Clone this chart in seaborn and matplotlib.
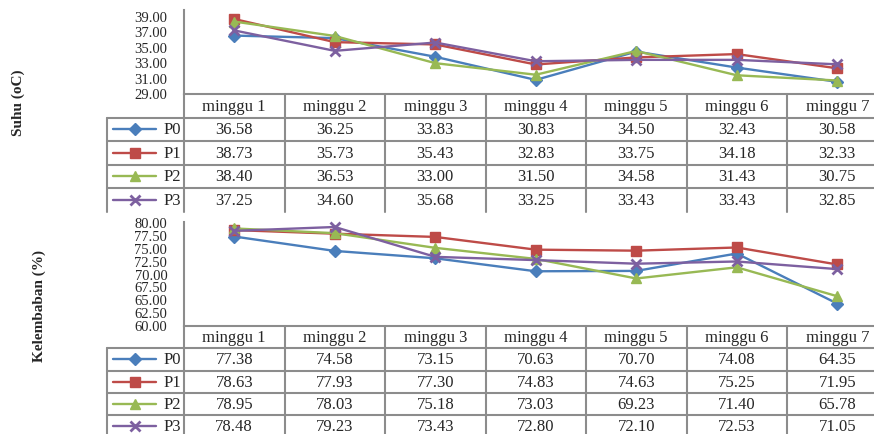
import numpy as np
import pandas as pd
import matplotlib
matplotlib.use("Agg")
import matplotlib.pyplot as plt
import seaborn as sns

weeks = ["minggu 1", "minggu 2", "minggu 3", "minggu 4", "minggu 5", "minggu 6", "minggu 7"]
series = ["P0", "P1", "P2", "P3"]

suhu_p0 = [36.58, 36.25, 33.83, 30.83, 34.50, 32.43, 30.58]
suhu_p1 = [38.73, 35.73, 35.43, 32.83, 33.75, 34.18, 32.33]
suhu_p2 = [38.40, 36.53, 33.00, 31.50, 34.58, 31.43, 30.75]
suhu_p3 = [37.25, 34.60, 35.68, 33.25, 33.43, 33.43, 32.85]

lembab_p0 = [77.38, 74.58, 73.15, 70.63, 70.70, 74.08, 64.35]
lembab_p1 = [78.63, 77.93, 77.30, 74.83, 74.63, 75.25, 71.95]
lembab_p2 = [78.95, 78.03, 75.18, 73.03, 69.23, 71.40, 65.78]
lembab_p3 = [78.48, 79.23, 73.43, 72.80, 72.10, 72.53, 71.05]

suhu_ticks = [29, 31, 33, 35, 37, 39]
lembab_ticks = [60, 62.5, 65, 67.5, 70, 72.5, 75, 77.5, 80]

colors = {"P0": "#4A7EBB", "P1": "#BE4B48", "P2": "#98B954", "P3": "#7D60A0"}
markers = {"P0": "D", "P1": "s", "P2": "^", "P3": "x"}
msize = {"P0": 6.5, "P1": 7.5, "P2": 7.5, "P3": 7.5}


def long_frame(vals):
    rows = []
    for s, v in zip(series, vals):
        for i, w in enumerate(weeks):
            rows.append({"pos": i, "minggu": w, "seri": s, "nilai": v[i]})
    return pd.DataFrame(rows)


df_suhu = long_frame([suhu_p0, suhu_p1, suhu_p2, suhu_p3])
df_lembab = long_frame([lembab_p0, lembab_p1, lembab_p2, lembab_p3])

sns.set_style("white")
plt.rcParams["font.family"] = ["Liberation Serif", "DejaVu Serif"]

W, H = 874, 434
fig = plt.figure(figsize=(W / 100, H / 100), dpi=100)

GRID = "#8C8C8C"
COL0 = 184      # left edge of first data column (px)
COLW = 100.5    # column width (px)
LEGX = 107      # left edge of legend column (px)


def px_axes(left, top, right, bottom):
    return fig.add_axes([left / W, 1 - bottom / H, (right - left) / W, (bottom - top) / H])


def draw_chart(df, top, bottom, ylim, ticks, ylabel, ylab_x, ylab_y):
    ax = px_axes(COL0, top, W, bottom)
    for s in series:
        sub = df[df["seri"] == s]
        sns.lineplot(data=sub, x="pos", y="nilai", color=colors[s], marker=markers[s],
                     markersize=msize[s], markeredgecolor=colors[s],
                     markeredgewidth=2 if s == "P3" else 1, linewidth=1.7,
                     sort=False, ax=ax, clip_on=False, legend=False)
    ax.set_xlim(-0.5, -0.5 + (W - COL0) / COLW)
    ax.set_ylim(*ylim)
    ax.set_yticks(ticks)
    ax.set_yticklabels([f"{t:.2f}" for t in ticks], fontsize=10.5)
    ax.set_xticks([])
    ax.tick_params(axis="y", length=0, pad=12)
    ax.set_xlabel("")
    ax.set_ylabel("")
    for sp in ["top", "right"]:
        ax.spines[sp].set_visible(False)
    for sp in ["left", "bottom"]:
        ax.spines[sp].set_color(GRID)
        ax.spines[sp].set_linewidth(1.5)
    fig.text(ylab_x / W, 1 - ylab_y / H, ylabel, rotation=90,
             ha="center", va="center", fontsize=11, fontweight="bold")
    return ax


ax1 = draw_chart(df_suhu, 10, 94, (29, 39.9), suhu_ticks, "Suhu (oC)", 18, 103)
ax2 = draw_chart(df_lembab, 222, 326, (60, 80.2), lembab_ticks, "Kelembaban (%)", 39, 306)

# overlay in pixel coordinates for the data tables
ov = fig.add_axes([0, 0, 1, 1])
ov.set_xlim(0, W)
ov.set_ylim(H, 0)
ov.axis("off")
ov.patch.set_visible(False)


def draw_table(vals, head_top, row_h, bottom):
    head_bot = head_top + row_h
    n = len(weeks)
    # vertical lines
    for i in range(n + 1):
        x = COL0 + i * COLW
        ov.plot([x, x], [head_top, bottom], color=GRID, lw=1.5)
    ov.plot([LEGX, LEGX], [head_bot, bottom], color=GRID, lw=1.5)
    # horizontal lines
    for r in range(len(series)):
        y = head_bot + r * row_h
        ov.plot([LEGX, W], [y, y], color=GRID, lw=1.5)
    # header text
    for i, w in enumerate(weeks):
        ov.text(COL0 + (i + 0.5) * COLW, head_top + row_h / 2 + 1, w,
                ha="center", va="center", fontsize=12)
    # rows
    for r, (s, v) in enumerate(zip(series, vals)):
        yc = head_bot + (r + 0.5) * row_h
        ov.plot([113, 156], [yc, yc], color=colors[s], lw=1.7)
        ov.plot([134.5], [yc], marker=markers[s], color=colors[s], markersize=msize[s] - 0.5,
                markeredgecolor=colors[s], markeredgewidth=2 if s == "P3" else 1)
        ov.text(181, yc + 1, s, ha="right", va="center", fontsize=12)
        for i in range(n):
            ov.text(COL0 + (i + 0.5) * COLW, yc + 1, f"{v[i]:.2f}",
                    ha="center", va="center", fontsize=12)


draw_table([suhu_p0, suhu_p1, suhu_p2, suhu_p3], 94, 23.5, 212)
draw_table([lembab_p0, lembab_p1, lembab_p2, lembab_p3], 326, 22.3, 440)

fig.savefig("out.png", dpi=100)
